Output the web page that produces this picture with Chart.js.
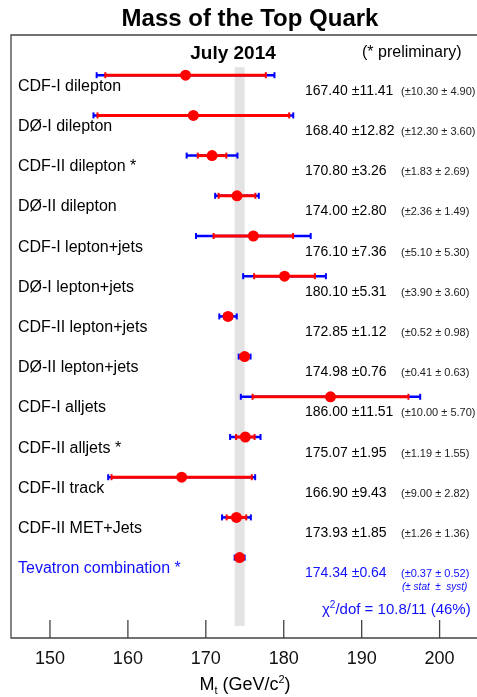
<!DOCTYPE html>
<html>
<head>
<meta charset="utf-8">
<script src="https://cdn.jsdelivr.net/npm/chart.js@4.4.0/dist/chart.umd.min.js"></script>
<style>
html, body { margin: 0; padding: 0; background: #fff; }
</style>
</head>
<body>
<canvas id="TopMass" width="477" height="697"></canvas>
<script>
// measurements, top to bottom
const measurements = [
    'CDF-I dilepton', 'DØ-I dilepton', 'CDF-II dilepton *', 'DØ-II dilepton',
    'CDF-I lepton+jets', 'DØ-I lepton+jets', 'CDF-II lepton+jets', 'DØ-II lepton+jets',
    'CDF-I alljets', 'CDF-II alljets *', 'CDF-II track', 'CDF-II MET+Jets',
    'Tevatron combination *'
];
const mass     = [167.40, 168.40, 170.80, 174.00, 176.10, 180.10, 172.85, 174.98, 186.00, 175.07, 166.90, 173.93, 174.34];
const totalErr = [11.41, 12.82, 3.26, 2.80, 7.36, 5.31, 1.12, 0.76, 11.51, 1.95, 9.43, 1.85, 0.64];
const statErr  = [10.30, 12.30, 1.83, 2.36, 5.10, 3.90, 0.52, 0.41, 10.00, 1.19, 9.00, 1.26, 0.37];
const systErr  = [4.90, 3.60, 2.69, 1.49, 5.30, 3.60, 0.98, 0.63, 5.70, 1.55, 2.82, 1.36, 0.52];
const xTicks = [150, 160, 170, 180, 190, 200];
const combIndex = 12;
const chi2Text = '/dof = 10.8/11 (46%)';

const FONT = "'Liberation Sans', Arial, Helvetica, sans-serif";

function errBar(ctx, x, py, m, e, color, lw) {
    const x0 = x.getPixelForValue(m - e), x1 = x.getPixelForValue(m + e);
    ctx.strokeStyle = color;
    ctx.lineWidth = lw;
    ctx.beginPath();
    ctx.moveTo(x0, py);
    ctx.lineTo(x1, py);
    ctx.stroke();
    ctx.fillStyle = color;
    ctx.fillRect(x0 - 1, py - 3, 2, 6);
    ctx.fillRect(x1 - 1, py - 3, 2, 6);
}

const overlay = {
    id: 'overlay',
    beforeDatasetsDraw(chart) {
        const {ctx, scales: {x, y}} = chart;
        ctx.save();
        // combination band
        const bx0 = x.getPixelForValue(mass[combIndex] - totalErr[combIndex]);
        const bx1 = x.getPixelForValue(mass[combIndex] + totalErr[combIndex]);
        const by0 = y.getPixelForValue(-0.2), by1 = y.getPixelForValue(13.7);
        ctx.fillStyle = '#e3e3e3';
        ctx.fillRect(bx0, by0, bx1 - bx0, by1 - by0);
        mass.forEach((m, i) => {
            const py = y.getPixelForValue(i);
            errBar(ctx, x, py, m, totalErr[i], '#0000ff', 2.5);
            errBar(ctx, x, py, m, statErr[i], '#ff0000', 3);
        });
        ctx.restore();
    },
    afterDraw(chart) {
        const {ctx, chartArea: a, scales: {x, y}} = chart;
        ctx.save();
        // frame + inward ticks
        ctx.strokeStyle = '#444';
        ctx.lineWidth = 1.3;
        ctx.beginPath();
        ctx.moveTo(chart.width, a.top);
        ctx.lineTo(a.left, a.top);
        ctx.lineTo(a.left, a.bottom);
        ctx.lineTo(chart.width, a.bottom);
        xTicks.forEach(v => {
            const px = x.getPixelForValue(v);
            ctx.moveTo(px, a.bottom);
            ctx.lineTo(px, a.bottom - 18);
        });
        ctx.stroke();

        ctx.textBaseline = 'alphabetic';
        ctx.fillStyle = '#000';
        ctx.textAlign = 'center';
        ctx.font = 'bold 24px ' + FONT;
        ctx.fillText('Mass of the Top Quark', 250, 26);
        ctx.font = 'bold 19px ' + FONT;
        ctx.fillText('July 2014', 233, 59);
        ctx.textAlign = 'left';
        ctx.font = '16px ' + FONT;
        ctx.fillText('(* preliminary)', 362, 57);

        measurements.forEach((name, i) => {
            const py = y.getPixelForValue(i);
            const col = i === combIndex ? '#1010ff' : '#000';
            ctx.fillStyle = col;
            ctx.font = '16px ' + FONT;
            ctx.fillText(name, 18, py + 15.5);
            ctx.font = '14px ' + FONT;
            ctx.fillText(mass[i].toFixed(2) + ' \u00b1' + totalErr[i].toFixed(2), 305, py + 19.5);
            ctx.fillStyle = i === combIndex ? '#1010ff' : '#222';
            ctx.font = '11px ' + FONT;
            ctx.fillText('(\u00b1' + statErr[i].toFixed(2) + ' \u00b1 ' + systErr[i].toFixed(2) + ')', 401, py + 19.5);
        });

        const cy = y.getPixelForValue(combIndex);
        ctx.fillStyle = '#1010ff';
        ctx.font = 'italic 10px ' + FONT;
        ctx.fillText('(\u00b1 stat  \u00b1  syst)', 402, cy + 32);

        // chi2 line
        let cx = 322;
        const chiY = cy + 56;
        ctx.font = '15px ' + FONT;
        ctx.fillText('\u03c7', cx, chiY);
        cx += ctx.measureText('\u03c7').width;
        ctx.font = '10px ' + FONT;
        ctx.fillText('2', cx, chiY - 6);
        cx += ctx.measureText('2').width;
        ctx.font = '15px ' + FONT;
        ctx.fillText(chi2Text, cx, chiY);

        // axis title M_t (GeV/c^2)
        ctx.fillStyle = '#000';
        const parts = [['M', 18, 0], ['t', 11, 4], [' (GeV/c', 18, 0], ['2', 11, -7], [')', 18, 0]];
        let total = 0;
        parts.forEach(p => { ctx.font = p[1] + 'px ' + FONT; total += ctx.measureText(p[0]).width; });
        let tx = 245 - total / 2;
        parts.forEach(p => {
            ctx.font = p[1] + 'px ' + FONT;
            ctx.fillText(p[0], tx, 690 + p[2]);
            tx += ctx.measureText(p[0]).width;
        });
        ctx.restore();
    }
};

new Chart(document.getElementById('TopMass'), {
    type: 'scatter',
    data: {
        datasets: [{
            data: mass.map((m, i) => ({x: m, y: i})),
            pointRadius: 5.5,
            pointBackgroundColor: '#ff0000',
            pointBorderWidth: 0,
            pointBorderColor: '#ff0000'
        }]
    },
    options: {
        responsive: false,
        devicePixelRatio: 1,
        animation: false,
        events: [],
        layout: {autoPadding: false, padding: {top: 35, left: 11, right: 0, bottom: 0}},
        plugins: {legend: {display: false}, tooltip: {enabled: false}},
        scales: {
            x: {
                type: 'linear',
                min: 145,
                max: 204.8,
                afterBuildTicks: s => { s.ticks = xTicks.map(v => ({value: v})); },
                afterFit: s => { s.height = 59; s.paddingLeft = 0; s.paddingRight = 0; },
                grid: {display: false, drawTicks: false},
                border: {display: false},
                ticks: {
                    padding: 10,
                    color: '#111',
                    font: {family: FONT, size: 18},
                    maxRotation: 0
                }
            },
            y: {
                type: 'linear',
                min: -1,
                max: 14,
                reverse: true,
                display: false
            }
        }
    },
    plugins: [overlay]
});
</script>
</body>
</html>
